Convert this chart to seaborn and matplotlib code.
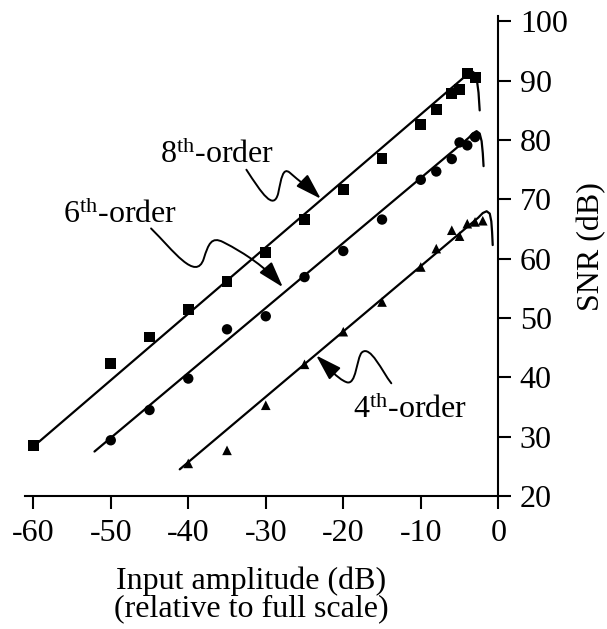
import numpy as np
import pandas as pd
import matplotlib
matplotlib.use("Agg")
import matplotlib.pyplot as plt
from matplotlib.path import Path
from matplotlib.patches import FancyArrowPatch
import seaborn as sns

# measured SNR points (dB)
amp_8th = [-60, -50, -45, -40, -35, -30, -25, -20, -15, -10, -8, -6, -5, -4, -3]
snr_8th = [28.5, 42.3, 46.8, 51.4, 56.1, 61.0, 66.6, 71.7, 76.9, 82.6, 85.1, 87.8, 88.5, 91.2, 90.5]

amp_6th = [-50, -45, -40, -35, -30, -25, -20, -15, -10, -8, -6, -5, -4, -3]
snr_6th = [29.4, 34.5, 39.8, 48.1, 50.3, 56.9, 61.3, 66.6, 73.3, 74.7, 76.8, 79.6, 79.1, 80.5]

amp_4th = [-40, -35, -30, -25, -20, -15, -10, -8, -6, -5, -4, -3, -2]
snr_4th = [25.5, 27.7, 35.3, 42.2, 47.7, 52.7, 58.6, 61.7, 64.8, 63.8, 65.9, 66.2, 66.4]

# simulated curves (straight part + overload hook)
fit8_x = [-59.3, -4.4, -3.9, -3.4, -3.0, -2.75, -2.55, -2.4]
fit8_y = [29.1, 90.6, 91.3, 91.6, 91.2, 90.0, 88.0, 85.0]
fit6_x = [-52.1, -3.8, -3.3, -2.8, -2.4, -2.15, -2.0, -1.9]
fit6_y = [27.5, 80.4, 81.1, 81.5, 81.1, 79.8, 77.8, 75.6]
fit4_x = [-41.1, -2.6, -2.0, -1.5, -1.1, -0.9, -0.8, -0.72]
fit4_y = [24.5, 66.9, 67.7, 68.0, 67.6, 66.3, 64.5, 62.3]

x_ticks = [-60, -50, -40, -30, -20, -10, 0]
y_ticks = [20, 30, 40, 50, 60, 70, 80, 90, 100]

sns.set_style("ticks")
plt.rcParams["font.family"] = ["Liberation Serif", "DejaVu Serif"]
plt.rcParams["mathtext.fontset"] = "custom"
plt.rcParams["mathtext.rm"] = "Liberation Serif"
plt.rcParams["mathtext.it"] = "Liberation Serif:italic"
plt.rcParams["text.color"] = "black"
plt.rcParams["axes.labelcolor"] = "black"
FS = 23

fig = plt.figure(figsize=(6.07, 6.29), dpi=100)
ax = fig.add_axes([0.042, 0.2114, 0.7789, 0.7631])

for fx, fy in [(fit8_x, fit8_y), (fit6_x, fit6_y), (fit4_x, fit4_y)]:
    sns.lineplot(x=fx, y=fy, sort=False, estimator=None, color="black", lw=1.6, ax=ax)

sns.scatterplot(x=amp_8th, y=snr_8th, marker="s", s=62, color="black", edgecolor="none", ax=ax)
sns.scatterplot(x=amp_6th, y=snr_6th, marker="o", s=56, color="black", edgecolor="none", ax=ax)
sns.scatterplot(x=amp_4th, y=snr_4th, marker="^", s=48, color="black", edgecolor="none", ax=ax)

# wavy annotation arrows
M, C = Path.MOVETO, Path.CURVE4
arrows = [
    [(-32.5, 75.0), (-30.5, 71.0), (-29.0, 68.0), (-28.4, 71.0),
     (-28.0, 73.5), (-27.8, 75.5), (-26.9, 74.5),
     (-25.8, 73.2), (-24.0, 71.5), (-22.9, 70.1)],
    [(-44.8, 65.1), (-42.0, 61.5), (-39.0, 56.0), (-38.0, 60.0),
     (-37.4, 62.5), (-37.0, 63.8), (-35.5, 62.8),
     (-32.5, 60.8), (-30.0, 58.5), (-27.8, 55.2)],
    [(-13.8, 39.0), (-15.0, 41.0), (-16.5, 45.5), (-17.6, 44.2),
     (-18.3, 43.3), (-18.3, 38.5), (-19.6, 39.2),
     (-20.8, 39.8), (-22.0, 41.8), (-23.5, 43.7)],
]
for pts in arrows:
    p = Path(pts, [M] + [C] * 9)
    ax.add_patch(FancyArrowPatch(path=p, arrowstyle="-|>,head_length=1.6,head_width=0.5",
                                 mutation_scale=10, color="black", lw=1.4))

ax.text(-43.6, 76.1, r"8$^{\rm th}$-order", fontsize=FS, va="baseline")
ax.text(-56.1, 66.0, r"6$^{\rm th}$-order", fontsize=FS, va="baseline")
ax.text(-18.8, 33.1, r"4$^{\rm th}$-order", fontsize=FS, va="baseline")

ax.set_xlim(-61.0, 0)
ax.set_ylim(20, 100.9)
ax.set_xticks(x_ticks)
ax.set_yticks(y_ticks)
ax.set_xticklabels([str(v) for v in x_ticks])
ax.spines["left"].set_visible(False)
ax.spines["top"].set_visible(False)
for s in ["right", "bottom"]:
    ax.spines[s].set_linewidth(1.5)
    ax.spines[s].set_color("black")
ax.yaxis.tick_right()
ax.yaxis.set_label_position("right")
ax.tick_params(axis="both", direction="out", length=9.5, width=1.5, labelsize=FS,
               colors="black", labelcolor="black")
ax.tick_params(axis="x", pad=7)
ax.tick_params(axis="y", pad=6)

ax.set_ylabel("SNR (dB)", fontsize=FS)
ax.yaxis.set_label_coords(1.198, 0.519)
ax.yaxis.label.set_va("center")
ax.set_xlabel("Input amplitude (dB)\n(relative to full scale)", fontsize=FS, linespacing=0.95)
ax.xaxis.set_label_coords(0.478, -0.206)
ax.xaxis.label.set_va("center")

fig.savefig("out.png", dpi=100)
